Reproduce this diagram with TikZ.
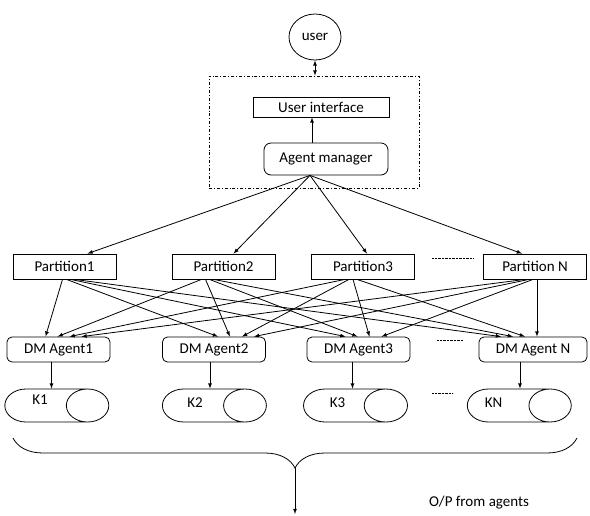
\documentclass[tikz,border=0pt]{standalone}
\usepackage{fontspec}
\setmainfont{Carlito}
\usetikzlibrary{arrows,shapes.geometric,decorations.pathreplacing,positioning}

\tikzset{
	part/.style={draw, minimum width=103pt, minimum height=25pt, inner sep=0pt},
	agent/.style={part, rounded corners=5pt},
	store/.style={cylinder, draw, shape aspect=4.4, minimum height=104pt, minimum width=33pt, inner sep=0pt},
	gap/.style={densely dotted, thin}
}

\begin{document}
\begin{tikzpicture}[x=1pt,y=-1pt,>=latex,line width=0.8pt,font=\fontsize{15}{18}\selectfont]
	\useasboundingbox (0,0) rectangle (590,515);

	% user and the manager block
	\node[draw, ellipse, minimum width=52pt, minimum height=46pt, inner sep=0pt] (user) at (315,37) {user};
	\node[draw, dash dot, minimum width=210pt, minimum height=112pt] (sys) at (314,132) {};
	\node[draw, minimum width=136pt, minimum height=20pt, inner sep=0pt] (ui) at (321,107) {User interface};
	\node[draw, rounded corners=7pt, minimum width=124pt, minimum height=32pt, inner sep=0pt] (mgr) at (326,159) {Agent manager};
	\draw[<->] (user) -- (user |- sys.north);
	\draw[->] ([xshift=-14pt]mgr.north) -- ([xshift=-14pt]mgr.north |- ui.south);

	% partitions
	\node[part] (p1) at (64.5,266.5) {Partition1};
	\node[part] (p2) at (223.5,266.5) {Partition2};
	\node[part] (p3) at (363,266.5) {Partition3};
	\node[part] (pn) at (535,266.5) {Partition N};
	\draw[gap] (432,258) -- (473,258);

	\coordinate (mo) at ([xshift=-16pt]mgr.south);
	\foreach \p/\s in {p1/23,p2/10,p3/4,pn/-13}
		\draw[->] (mo) -- ([xshift=\s pt]\p.north);

	% data mining agents
	\node[agent] (d1) at (58.5,349.5) {DM Agent1};
	\node[agent] (d2) at (214,349.5) {DM Agent2};
	\node[agent] (d3) at (358.5,349.5) {DM Agent3};
	\node[agent, minimum width=108pt] (dn) at (533,349.5) {DM Agent N};
	\draw[gap] (437,340) -- (463,340);

	\foreach \p/\s [count=\i] in {p1/4,p2/-16,p3/-12,pn/-4}
		\foreach \d/\t [count=\j] in {d1/5,d2/22,d3/5,dn/-14}
			\draw[->] ([xshift=\s pt+(\j-2.5)*4pt]\p.south) -- ([xshift=\t pt+(\i-2.5)*12pt]\d.north);

	% knowledge stores
	\node[store] (k1) at (46,405.5) {\phantom{K1}\hspace{62pt}};
	\node[store] (k2) at (203.5,405.5) {\phantom{K2}\hspace{67pt}};
	\node[store] (k3) at (344.5,405.5) {\phantom{K3}\hspace{64pt}};
	\node[store] (kn) at (508.5,405.5) {\phantom{KN}\hspace{76pt}};
	\node (k1t) at (40,400) {K1};
	\node (k2t) at (195,403) {K2};
	\node (k3t) at (337.5,403) {K3};
	\node (knt) at (493.5,403) {KN};
	\draw[gap] (432,393) -- (453,393);

	\foreach \d/\k/\s in {d1/k1/-7,d2/k2/-4,d3/k3/-6,dn/kn/-13}
		\draw[->] ([xshift=\s pt]\d.south) -- ([xshift=\s pt]\d.south |- \k.north);

	% output
	\draw[decorate, decoration={brace, amplitude=30pt}] (577,438) -- (13,438);
	\coordinate (bt) at (295,468);
	\coordinate (op) at (295,514);
	\draw[->] (bt) -- (op);
	\node (optxt) at (479,503) {O/P from agents};
\end{tikzpicture}
\end{document}
